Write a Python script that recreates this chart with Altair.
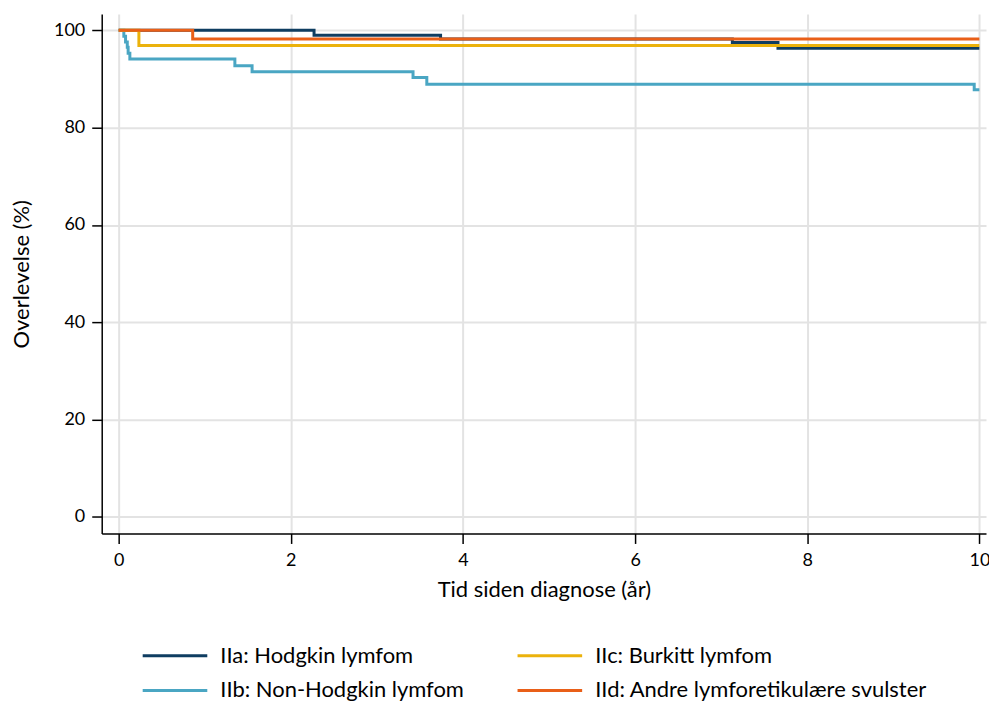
import altair as alt
import pandas as pd

# Kaplan-Meier step data (time in years, survival in %)
labels = [
    "IIa: Hodgkin lymfom",
    "IIb: Non-Hodgkin lymfom",
    "IIc: Burkitt lymfom",
    "IId: Andre lymforetikulære svulster",
]
colors = ["#0f3d61", "#4aa6c3", "#ebb20c", "#e95f18"]

t_a = [0, 2.27, 3.74, 7.13, 7.66, 10.0]
s_a = [100, 99.0, 98.2, 97.5, 96.3, 96.3]

t_b = [0, 0.06, 0.08, 0.10, 0.11, 0.13, 1.35, 1.55, 3.42, 3.58, 9.94, 10.0]
s_b = [100, 98.8, 97.6, 96.5, 95.3, 94.1, 92.7, 91.5, 90.3, 88.9, 87.8, 87.8]

t_c = [0, 0.235, 10.0]
s_c = [100, 96.9, 96.9]

t_d = [0, 0.86, 10.0]
s_d = [100, 98.2, 98.2]

x_ticks = [0, 2, 4, 6, 8, 10]
y_ticks = [0, 20, 40, 60, 80, 100]

rows = []
for lab, ts, ss in zip(labels, [t_a, t_b, t_c, t_d], [s_a, s_b, s_c, s_d]):
    for i, (t, s) in enumerate(zip(ts, ss)):
        rows.append({"gruppe": lab, "tid": t, "overlevelse": s, "i": i})
df = pd.DataFrame(rows)

FONT = "Lato"

chart = (
    alt.Chart(df)
    .mark_line(interpolate="step-after", strokeWidth=3)
    .encode(
        x=alt.X(
            "tid:Q",
            scale=alt.Scale(domain=[-0.197, 10.077], nice=False, zero=False),
            axis=alt.Axis(
                values=x_ticks,
                title="Tid siden diagnose (år)",
                format="d",
            ),
        ),
        y=alt.Y(
            "overlevelse:Q",
            scale=alt.Scale(domain=[-3.42, 103.34], nice=False, zero=False),
            axis=alt.Axis(
                values=y_ticks,
                title="Overlevelse (%)",
                format="d",
            ),
        ),
        color=alt.Color(
            "gruppe:N",
            scale=alt.Scale(domain=labels, range=colors),
            legend=alt.Legend(
                title=None,
                orient="none",
                legendX=60,
                legendY=630,
                columns=2,
                symbolType="M-2.7,0H2.7",
                symbolSize=576,
                symbolStrokeWidth=3,
                labelFont=FONT,
                labelFontSize=22,
                labelColor="#000000",
                labelOffset=32,
                labelLimit=600,
                columnPadding=47,
                rowPadding=10,
                padding=0,
            ),
        ),
        order="i:Q",
    )
    .properties(
        width=887,
        height=521,
        autosize=alt.AutoSizeParams(type="none"),
        padding={"left": 94, "top": 5, "right": 3, "bottom": 180},
    )
    .configure_view(stroke=None)
    .configure_axis(
        grid=True,
        gridColor="#e3e3e3",
        gridWidth=2,
        domainColor="#000000",
        domainWidth=1.5,
        tickColor="#000000",
        tickWidth=1.5,
        tickSize=10,
        labelFont=FONT,
        labelFontSize=18,
        labelColor="#000000",
        titleFont=FONT,
        titleFontSize=22,
        titleFontWeight="normal",
        titleColor="#000000",
    )
    .configure_axisX(titlePadding=10, labelPadding=8)
    .configure_axisY(titlePadding=20, labelPadding=7)
)

chart.save("out.html", embed_options={"renderer": "svg", "actions": False})
